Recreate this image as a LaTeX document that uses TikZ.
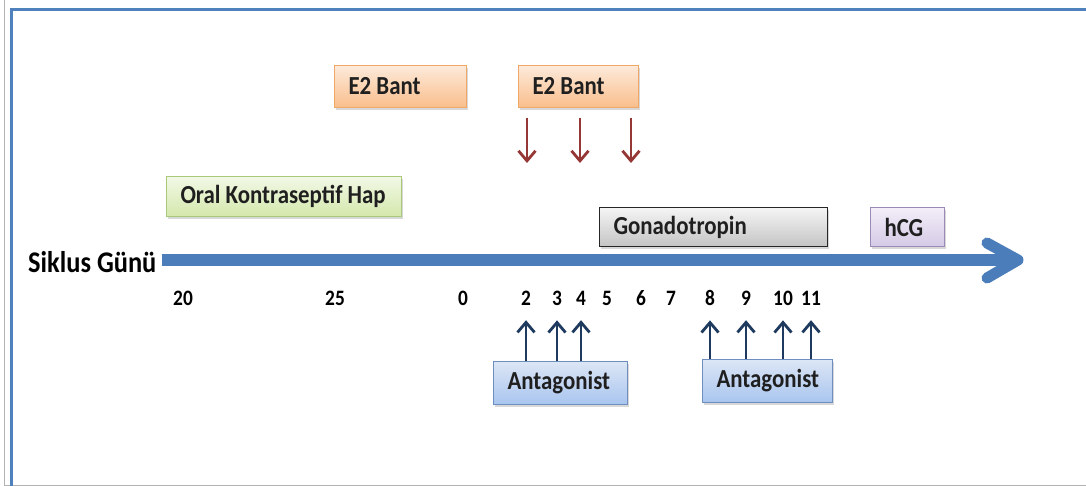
\documentclass[tikz,border=0pt]{standalone}
\usepackage{fontspec}
\setmainfont{Carlito}[FakeStretch=0.88]
\usepackage{xcolor}
\usetikzlibrary{arrows.meta,positioning,shadows}

\definecolor{frameblue}{HTML}{4F81BD}
\definecolor{axisblue}{HTML}{4A7DBA}
\definecolor{e2top}{HTML}{FDEADA}
\definecolor{e2bot}{HTML}{F9BE8C}
\definecolor{e2line}{HTML}{F0A868}
\definecolor{octop}{HTML}{F2F8E6}
\definecolor{ocbot}{HTML}{D4E8AC}
\definecolor{ocline}{HTML}{A8C97A}
\definecolor{gontop}{HTML}{F5F5F5}
\definecolor{gonbot}{HTML}{C4C4C4}
\definecolor{gonline}{HTML}{262626}
\definecolor{hcgtop}{HTML}{F3EEF8}
\definecolor{hcgbot}{HTML}{D5CAE6}
\definecolor{hcgline}{HTML}{9B8AB5}
\definecolor{anttop}{HTML}{DCE6F5}
\definecolor{antbot}{HTML}{A9C5EF}
\definecolor{antline}{HTML}{6E8EBF}
\definecolor{e2arrow}{HTML}{953735}
\definecolor{antarrow}{HTML}{1F3A5F}

\begin{document}
\begin{tikzpicture}[x=1pt, y=-1pt,
  box/.style={draw, anchor=north west, align=left, inner xsep=14pt, inner ysep=0pt, line width=1pt, font=\fontsize{26}{29}\selectfont\bfseries, text=black!88, execute at begin node={\spaceskip=0pt\xspaceskip=0pt}, drop shadow={shadow xshift=1.5pt, shadow yshift=-2.5pt, opacity=0.3}},
  e2box/.style={box, draw=e2line, top color=e2top, bottom color=e2bot},
  ocbox/.style={box, draw=ocline, top color=octop, bottom color=ocbot},
  gonbox/.style={box, draw=gonline, top color=gontop, bottom color=gonbot},
  hcgbox/.style={box, draw=hcgline, top color=hcgtop, bottom color=hcgbot},
  antbox/.style={box, draw=antline, top color=anttop, bottom color=antbot},
  day/.style={anchor=base, inner sep=0pt, font=\fontsize{22}{25}\selectfont\bfseries},
  e2arr/.style={draw=e2arrow, line width=2.8pt, -{Straight Barb[length=10pt,width=17pt]}},
  antarr/.style={draw=antarrow, line width=2.8pt, -{Straight Barb[length=10pt,width=17pt]}},
  axisline/.style={draw=axisblue, line width=11pt}
]
\useasboundingbox (0,0) rectangle (1086,486);
\fill[white] (0,0) rectangle (1086,486);
\draw[black!30, line width=1pt] (4,0) -- (4,485) -- (1086,485);
\draw[frameblue, line width=3pt] (1086,10) -- (11,10) -- (11,486);

\node[e2box, text width=104pt, minimum height=42pt] (e2a) at (334,65) {E2 Bant};
\node[e2box, text width=92pt, minimum height=42pt, right=51pt of e2a] (e2b) {E2 Bant};
\node[ocbox, text width=207pt, minimum height=40pt] (oc) at (166,176) {Oral Kontraseptif Hap};
\node[gonbox, text width=200pt, minimum height=39pt] (gon) at (599,207) {Gonadotropin};
\node[hcgbox, text width=46pt, minimum height=39pt, right=42pt of gon] (hcg) {hCG};
\node[antbox, text width=106pt, minimum height=43pt] (ant1) at (493,361) {Antagonist};
\node[antbox, text width=102pt, minimum height=43pt] (ant2) at (702,359) {Antagonist};

\node[anchor=west, inner xsep=5pt, inner ysep=0pt, font=\fontsize{30}{33}\selectfont\bfseries] (siklus) at (23,262) {Siklus Günü};
\coordinate (axend) at (1018,260);
\draw[axisline] (siklus.east |- axend) -- (axend);
\draw[axisline, line cap=round, line join=round] ([shift={(-31,-17)}]axend) -- (axend) -- ([shift={(-31,18)}]axend);

\foreach \n/\x in {20/183,25/335,0/463,2/526,3/557,4/581,5/607,6/641,7/671,8/710,9/746,10/783,11/811}
  \node[day] (d\n) at (\x,305) {\n};

\foreach \x [count=\i] in {527,580,631} {
  \coordinate (e2t\i) at (\x,163);
  \draw[e2arr] ([yshift=-10pt]e2b.south -| e2t\i) -- (e2t\i);
}
\foreach \n in {2,3,4}
  \draw[antarr] (ant1.north -| d\n) -- ([yshift=-15pt]d\n.south);
\foreach \n in {8,9,10,11}
  \draw[antarr] (ant2.north -| d\n) -- ([yshift=-15pt]d\n.south);
\end{tikzpicture}
\end{document}
